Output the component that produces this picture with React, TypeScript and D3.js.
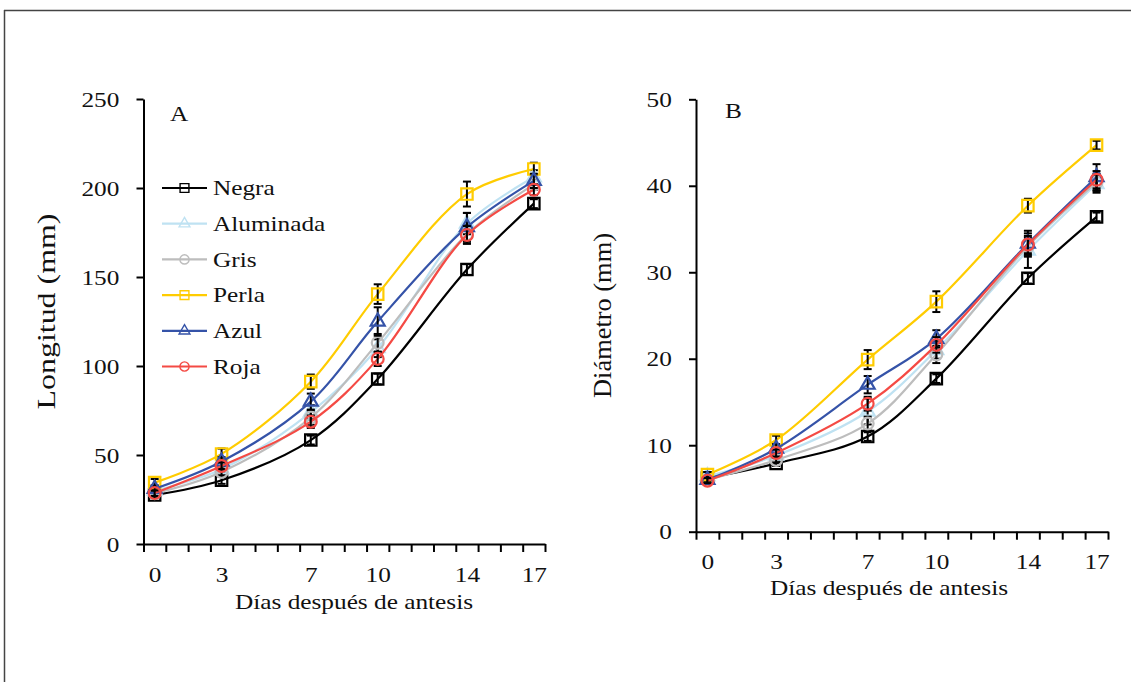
import React, { useEffect, useRef } from 'react';
import * as d3 from 'd3';

// días después de antesis
const days = [0, 3, 7, 10, 14, 17];
const dayLabels = [0, 3, 7, 10, 14, 17];
const dayCategories = [-0.5, 0.5, 1.5, 2.5, 3.5, 4.5, 5.5, 6.5, 7.5, 8.5, 9.5, 10.5, 11.5, 12.5, 13.5, 14.5, 15.5, 16.5, 17.5];

const names = ['Negra', 'Aluminada', 'Gris', 'Perla', 'Azul', 'Roja'];
const colors = ['#000000', '#bfe2f2', '#bdbdbd', '#ffcc00', '#3553a8', '#f44a44'];
const shapes = ['square', 'triangle', 'circle', 'square', 'triangle', 'circle'];

// A: longitud (mm)
const longNegra = [27.5, 35.8, 58.4, 92.7, 154.2, 191.2];
const longAluminada = [30, 42, 74, 110, 180, 206];
const longGris = [28.5, 40.5, 71, 113, 174, 202];
const longPerla = [34.5, 50.6, 91.2, 140.4, 196.6, 210.7];
const longAzul = [31, 46.3, 80, 125, 178, 204];
const longRoja = [28.6, 43.8, 68.7, 104, 173.6, 199];

const longErrNegra = [1.5, 2, 2.5, 3, 3, 2.5];
const longErrAluminada = [2, 2, 4, 5, 6, 4];
const longErrGris = [2, 2, 4, 5, 5, 3];
const longErrPerla = [2, 3, 4, 5.5, 7, 3.5];
const longErrAzul = [2, 2.5, 4.5, 8, 8, 4];
const longErrRoja = [1.5, 2, 3.5, 4, 5, 3];

// B: diámetro (mm)
const diamNegra = [6.2, 7.9, 11.0, 17.7, 29.3, 36.4];
const diamAluminada = [6.4, 8.8, 13.9, 21.0, 32.5, 40.2];
const diamGris = [6.0, 8.3, 12.5, 20.5, 33.0, 40.4];
const diamPerla = [6.6, 10.6, 19.9, 26.6, 37.7, 44.7];
const diamAzul = [6.0, 9.6, 17.0, 22.3, 33.3, 41.0];
const diamRoja = [5.9, 9.1, 14.8, 21.6, 33.2, 40.7];

const diamErrNegra = [0.3, 0.3, 0.5, 0.5, 0.6, 0.5];
const diamErrAluminada = [0.3, 0.4, 1.5, 1.0, 2.0, 1.0];
const diamErrGris = [0.3, 0.3, 0.8, 1.0, 1.0, 1.0];
const diamErrPerla = [0.3, 0.5, 1.1, 1.2, 0.8, 0.5];
const diamErrAzul = [0.3, 0.5, 1.0, 1.0, 1.5, 1.5];
const diamErrRoja = [0.3, 0.4, 0.8, 0.9, 1.0, 1.0];

const longTicks = [0, 50, 100, 150, 200, 250];
const diamTicks = [0, 10, 20, 30, 40, 50];

const FONT = '"Liberation Serif", "Times New Roman", serif';
const SX = 1.15;

function symbolOf(shape: string) {
  if (shape === 'square') return d3.symbolSquare;
  if (shape === 'triangle') return d3.symbolTriangle;
  return d3.symbolCircle;
}

function symbolSize(shape: string, small: boolean) {
  const k = small ? 0.6 : 1;
  if (shape === 'square') return 130 * k;
  if (shape === 'triangle') return 85 * k;
  return 110 * k;
}

function drawPanel(svg: any, cfg: any) {
  const x = d3.scaleLinear().domain([-0.5, 17.5]).range([cfg.left, cfg.right]);
  const y = d3.scaleLinear().domain([0, cfg.yMax]).range([cfg.bottom, cfg.top]);
  const g = svg.append('g');

  const styleAxis = (sel: any) => {
    sel.attr('font-family', FONT).attr('font-size', 22);
    sel.selectAll('.domain, .tick line').attr('stroke', '#000').attr('stroke-width', 2);
    sel.selectAll('text').attr('fill', '#111').attr('transform', `scale(${SX},1)`);
  };

  g.append('g')
    .attr('transform', `translate(0,${cfg.bottom})`)
    .call(d3.axisBottom(x).tickValues(dayCategories).tickSize(8).tickSizeOuter(0).tickFormat(() => ''))
    .call(styleAxis);

  g.append('g')
    .attr('transform', `translate(0,${cfg.bottom})`)
    .call(d3.axisBottom(x).tickValues(dayLabels).tickSize(0).tickPadding(22).tickFormat(d3.format('d')))
    .call((s: any) => s.select('.domain').remove())
    .call(styleAxis);

  g.append('g')
    .attr('transform', `translate(${cfg.left},0)`)
    .call(d3.axisLeft(y).tickValues(cfg.ticks).tickSize(7).tickSizeOuter(0).tickPadding(14))
    .call(styleAxis);

  const line = d3.line<number>()
    .x((_, i) => x(days[i]))
    .y(d => y(d))
    .curve(d3.curveCatmullRom.alpha(0.5));

  cfg.values.forEach((vals: number[], si: number) => {
    const sg = g.append('g');
    sg.append('path')
      .attr('d', line(vals))
      .attr('fill', 'none')
      .attr('stroke', colors[si])
      .attr('stroke-width', 2.2);

    const errs = cfg.errors[si];
    vals.forEach((v: number, i: number) => {
      const cx = x(days[i]);
      const e = errs[i];
      const eb = sg.append('g').attr('stroke', '#000').attr('stroke-width', 2);
      eb.append('line').attr('x1', cx).attr('x2', cx).attr('y1', y(v - e)).attr('y2', y(v + e));
      eb.append('line').attr('x1', cx - 4).attr('x2', cx + 4).attr('y1', y(v - e)).attr('y2', y(v - e));
      eb.append('line').attr('x1', cx - 4).attr('x2', cx + 4).attr('y1', y(v + e)).attr('y2', y(v + e));
    });

    sg.selectAll('path.mk')
      .data(vals)
      .enter()
      .append('path')
      .attr('class', 'mk')
      .attr('d', d3.symbol().type(symbolOf(shapes[si])).size(symbolSize(shapes[si], false)))
      .attr('transform', (d: number, i: number) => `translate(${x(days[i])},${y(d)})`)
      .attr('fill', 'none')
      .attr('stroke', colors[si])
      .attr('stroke-width', 2.2);
  });

  // axis titles
  g.append('text')
    .attr('transform', `translate(${cfg.xTitleX},${cfg.bottom + cfg.xTitleDy}) scale(${SX},1)`)
    .attr('text-anchor', 'middle')
    .attr('font-family', FONT)
    .attr('font-size', 22)
    .attr('fill', '#111')
    .text('Días después de antesis');

  g.append('text')
    .attr('transform', `translate(${cfg.yTitleX},${cfg.yTitleY}) rotate(-90)`)
    .attr('text-anchor', 'middle')
    .attr('font-family', FONT)
    .attr('font-size', 26)
    .attr('textLength', cfg.yTitleLen)
    .attr('lengthAdjust', 'spacingAndGlyphs')
    .attr('fill', '#111')
    .text(cfg.yTitle);

  g.append('text')
    .attr('transform', `translate(${cfg.letterX},${cfg.letterY}) scale(${SX},1)`)
    .attr('font-family', FONT)
    .attr('font-size', 22)
    .attr('fill', '#111')
    .text(cfg.letter);

  if (cfg.legend) {
    const lg = g.append('g').attr('transform', 'translate(162,188)');
    names.forEach((n, i) => {
      const row = lg.append('g').attr('transform', `translate(0,${i * 35.7})`);
      row.append('line').attr('x1', 0).attr('x2', 45).attr('y1', 0).attr('y2', 0)
        .attr('stroke', colors[i]).attr('stroke-width', 2.2);
      row.append('path')
        .attr('d', d3.symbol().type(symbolOf(shapes[i])).size(symbolSize(shapes[i], true)))
        .attr('transform', 'translate(22.5,0)')
        .attr('fill', 'none')
        .attr('stroke', colors[i])
        .attr('stroke-width', 1.4);
      row.append('text')
        .attr('transform', `translate(51,0) scale(${SX},1)`)
        .attr('dy', '0.33em')
        .attr('font-family', FONT)
        .attr('font-size', 22)
        .attr('fill', '#111')
        .text(n);
    });
  }
}

export default function App() {
  const ref = useRef<SVGSVGElement>(null);

  useEffect(() => {
    const svg = d3.select(ref.current);
    svg.selectAll('*').remove();

    // outer frame
    svg.append('line').attr('x1', 4).attr('x2', 1131).attr('y1', 10.5).attr('y2', 10.5)
      .attr('stroke', '#444').attr('stroke-width', 1.5);
    svg.append('line').attr('x1', 4.5).attr('x2', 4.5).attr('y1', 10).attr('y2', 682)
      .attr('stroke', '#444').attr('stroke-width', 1.5);

    drawPanel(svg, {
      left: 143.5, right: 545, top: 99, bottom: 544, yMax: 250, ticks: longTicks,
      values: [longNegra, longAluminada, longGris, longPerla, longAzul, longRoja],
      errors: [longErrNegra, longErrAluminada, longErrGris, longErrPerla, longErrAzul, longErrRoja],
      xTitleX: 354, xTitleDy: 65, yTitle: 'Longitud (mm)', yTitleX: 55, yTitleY: 311.5, yTitleLen: 196,
      letter: 'A', letterX: 170, letterY: 121, legend: true,
    });

    drawPanel(svg, {
      left: 696, right: 1108, top: 99.3, bottom: 531.7, yMax: 50, ticks: diamTicks,
      values: [diamNegra, diamAluminada, diamGris, diamPerla, diamAzul, diamRoja],
      errors: [diamErrNegra, diamErrAluminada, diamErrGris, diamErrPerla, diamErrAzul, diamErrRoja],
      xTitleX: 889, xTitleDy: 63, yTitle: 'Diámetro (mm)', yTitleX: 611, yTitleY: 315.5, yTitleLen: 165,
      letter: 'B', letterX: 725, letterY: 118, legend: false,
    });
  }, []);

  return (
    <svg
      ref={ref}
      width={1131}
      height={682}
      style={{ position: 'absolute', left: 0, top: 0, background: '#fff' }}
    />
  );
}
